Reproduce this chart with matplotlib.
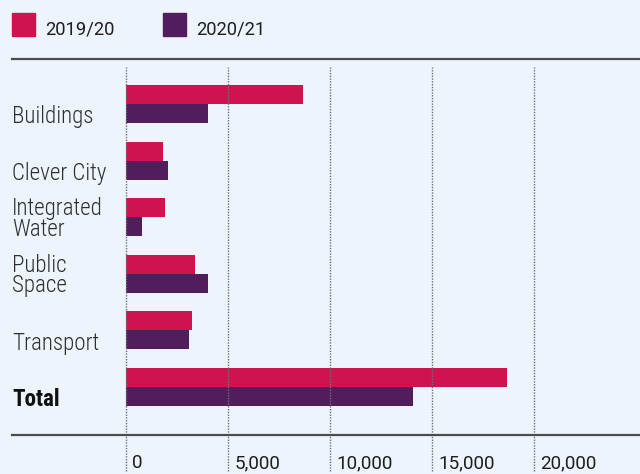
import matplotlib
matplotlib.use("Agg")
import matplotlib.pyplot as plt
from matplotlib import font_manager as fm
from matplotlib.transforms import blended_transform_factory
from matplotlib.patches import Rectangle
from matplotlib.lines import Line2D

# Spend by programme area
categories = ["Buildings", "Clever City", "Integrated\nWater", "Public\nSpace", "Transport", "Total"]
spend_2019_20 = [8700, 1800, 1900, 3400, 3250, 18700]
spend_2020_21 = [4000, 2050, 800, 4000, 3100, 14050]
series_labels = ["2019/20", "2020/21"]
x_ticks = [0, 5000, 10000, 15000, 20000]
x_tick_labels = ["0", "5,000", "10,000", "15,000", "20,000"]

BG = "#EEF4FC"
PINK = "#D0134F"
PURPLE = "#521D5C"
RULE = "#4A4A50"
TEXT = "#2E2E2E"


def find_font(prefs, fallback):
    files = [f.fname for f in fm.fontManager.ttflist]
    for p in prefs:
        for fn in files:
            if p in fn.replace(" ", "") and "Italic" not in fn and "Oblique" not in fn:
                return fm.FontProperties(fname=fn)
    return fallback


cond = find_font(["RobotoCondensed-Light", "RobotoCondensed-Regular",
                  "LiberationSansNarrow-Regular", "DejaVuSansCondensed.ttf"],
                 fm.FontProperties(family="Roboto", stretch="condensed"))
cond_bold = find_font(["RobotoCondensed-Bold", "LiberationSansNarrow-Bold",
                       "DejaVuSansCondensed-Bold"],
                      fm.FontProperties(family="Roboto", weight="bold", stretch="condensed"))

W, H = 640, 474
fig = plt.figure(figsize=(W / 100, H / 100), dpi=100, facecolor=BG)

# plot area in pixel terms
x0_px, x1_px = 126, 640
top_px, bot_px = 59, 435
ax = fig.add_axes([x0_px / W, 1 - bot_px / H, (x1_px - x0_px) / W, (bot_px - top_px) / H])
ax.set_facecolor(BG)
px_per_unit = 102 / 5000
ax.set_xlim(0, (x1_px - x0_px) / px_per_unit)

step = 56.6
first_center = 104
ax.set_ylim((bot_px - first_center) / step, (top_px - first_center) / step)

bar_h = 19 / step
idx = list(range(len(categories)))
ax.barh([i - bar_h / 2 for i in idx], spend_2019_20, height=bar_h, color=PINK, zorder=2)
ax.barh([i + bar_h / 2 for i in idx], spend_2020_21, height=bar_h, color=PURPLE, zorder=2)

for s in ax.spines.values():
    s.set_visible(False)
ax.set_xticks([])
ax.set_yticks([])

# dotted gridlines running past the plot area, through the tick labels
g_top = (bot_px - 67) / (bot_px - top_px)
g_bot = (bot_px - 471) / (bot_px - top_px)
for xv in x_ticks:
    ax.axvline(xv, ymin=g_bot, ymax=g_top, color="#6E6E78", lw=1.0,
               linestyle=(0, (1, 1)), clip_on=False, zorder=3)

tb = blended_transform_factory(ax.transData, fig.transFigure)
for xv, lab in zip(x_ticks, x_tick_labels):
    ax.text(xv + 300, 1 - 463 / H, lab, transform=tb, ha="left", va="center",
            fontsize=13.6, family="Roboto", color="#1E1E1E")

# horizontal rules above and below
for ypx in (top_px, bot_px):
    fig.add_artist(Line2D([12 / W, 1], [1 - ypx / H] * 2, color=RULE, lw=1.6,
                          transform=fig.transFigure))

# category labels; the baseline of the last line sits just below the bar pair centre
tl = blended_transform_factory(fig.transFigure, ax.transData)
for i, cat in enumerate(categories):
    fp = (cond_bold if cat == "Total" else cond).copy()
    fp.set_size(16.6)
    off = 19.5 if "\n" not in cat else 18.5
    ax.text(12 / W, i + off / step, cat, transform=tl, ha="left", va="baseline",
            fontproperties=fp, linespacing=0.87,
            color="#111111" if cat == "Total" else TEXT)

# legend
for (xs, xt), lab, col in zip([(12, 45), (163, 196)], series_labels, [PINK, PURPLE]):
    fig.add_artist(Rectangle((xs / W, 1 - 36 / H), 23 / W, 23 / H, color=col,
                             transform=fig.transFigure))
    fig.text(xt / W, 1 - 29 / H, lab, ha="left", va="center", fontsize=13.2,
             family="Roboto", color="#1E1E1E")

fig.savefig("out.png", dpi=100, facecolor=BG)
